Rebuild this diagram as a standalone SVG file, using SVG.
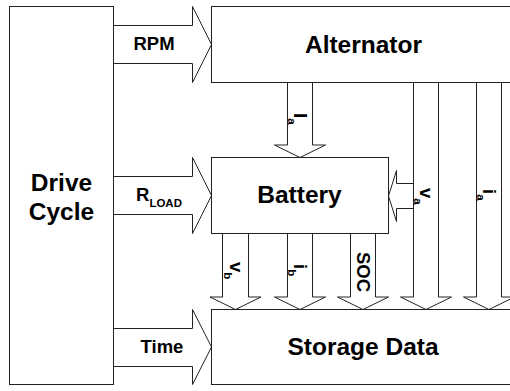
<svg xmlns="http://www.w3.org/2000/svg" width="510" height="391" viewBox="0 0 510 391">
<style>
.box{fill:#fff;stroke:#222;stroke-width:1}
.arr{fill:none;stroke:#222;stroke-width:1;stroke-linejoin:miter}
text{font-family:"Liberation Sans",Arial,Helvetica,sans-serif;font-weight:bold;fill:#000}
.big{font-size:24.5px;text-anchor:middle}
.mid{font-size:18.5px}
.sub{font-size:11.5px}
</style>
<rect width="510" height="391" fill="#fff"/>
<g id="drive-cycle">
<rect class="box" x="9.5" y="6.5" width="104" height="378"/>
<text class="big" x="61.5" y="191">Drive</text>
<text class="big" x="61.5" y="220">Cycle</text>
</g>
<g id="alternator">
<rect class="box" x="211.5" y="6.5" width="310" height="76"/>
<text class="big" x="363.5" y="53">Alternator</text>
</g>
<g id="battery">
<rect class="box" x="211.5" y="157.5" width="177" height="76"/>
<text class="big" x="299.5" y="203">Battery</text>
</g>
<g id="storage-data">
<rect class="box" x="211.5" y="309.5" width="310" height="75"/>
<text class="big" x="363" y="355">Storage Data</text>
</g>
<g id="connectors">
<polyline class="arr" points="113.5,25.5 192.5,25.5 192.5,6.5 211.5,44.5 192.5,82.5 192.5,63.5 113.5,63.5"/>
<polyline class="arr" points="113.5,176.5 192.5,176.5 192.5,157.5 211.5,195.5 192.5,233.5 192.5,214.5 113.5,214.5"/>
<polyline class="arr" points="113.5,328.5 192.5,328.5 192.5,309.5 211.5,347 192.5,384.5 192.5,366.5 113.5,366.5"/>
<polyline class="arr" points="287.5,82.5 287.5,145 274.5,145 300,157.5 325.5,145 312.5,145 312.5,82.5"/>
<polyline class="arr" points="222.5,233.5 222.5,297 210,297 235.5,309.5 261,297 248.5,297 248.5,233.5"/>
<polyline class="arr" points="287.5,233.5 287.5,297 274.5,297 300,309.5 325.5,297 312.5,297 312.5,233.5"/>
<polyline class="arr" points="350.5,233.5 350.5,297 337.5,297 363,309.5 388.5,297 375.5,297 375.5,233.5"/>
<polyline class="arr" points="413.5,82.5 413.5,297 400.5,297 426,309.5 451.5,297 438.5,297 438.5,82.5"/>
<polyline class="arr" points="476.5,82.5 476.5,297 463.5,297 489,309.5 514.5,297 501.5,297 501.5,82.5"/>
<polyline class="arr" points="413.5,183.5 396.5,183.5 396.5,170.5 388.5,196 396.5,221.5 396.5,208.5 413.5,208.5"/>
<text class="mid" x="154" y="50" text-anchor="middle">RPM</text>
<text class="mid" x="136" y="201">R<tspan class="sub" dy="6">LOAD</tspan></text>
<text class="mid" x="162" y="353" text-anchor="middle">Time</text>
<text class="mid" transform="translate(294,113) rotate(90)">I<tspan class="sub" dy="6">a</tspan></text>
<text class="mid" transform="translate(420,188) rotate(90)">v<tspan class="sub" dy="6">a</tspan></text>
<text class="mid" transform="translate(483,189) rotate(90)">i<tspan class="sub" dy="6">a</tspan></text>
<text class="mid" transform="translate(230,262) rotate(90)">v<tspan class="sub" dy="6">b</tspan></text>
<text class="mid" transform="translate(294,264) rotate(90)">i<tspan class="sub" dy="6">b</tspan></text>
<text class="mid" transform="translate(357,252) rotate(90)">SOC</text>
</g>
</svg>
